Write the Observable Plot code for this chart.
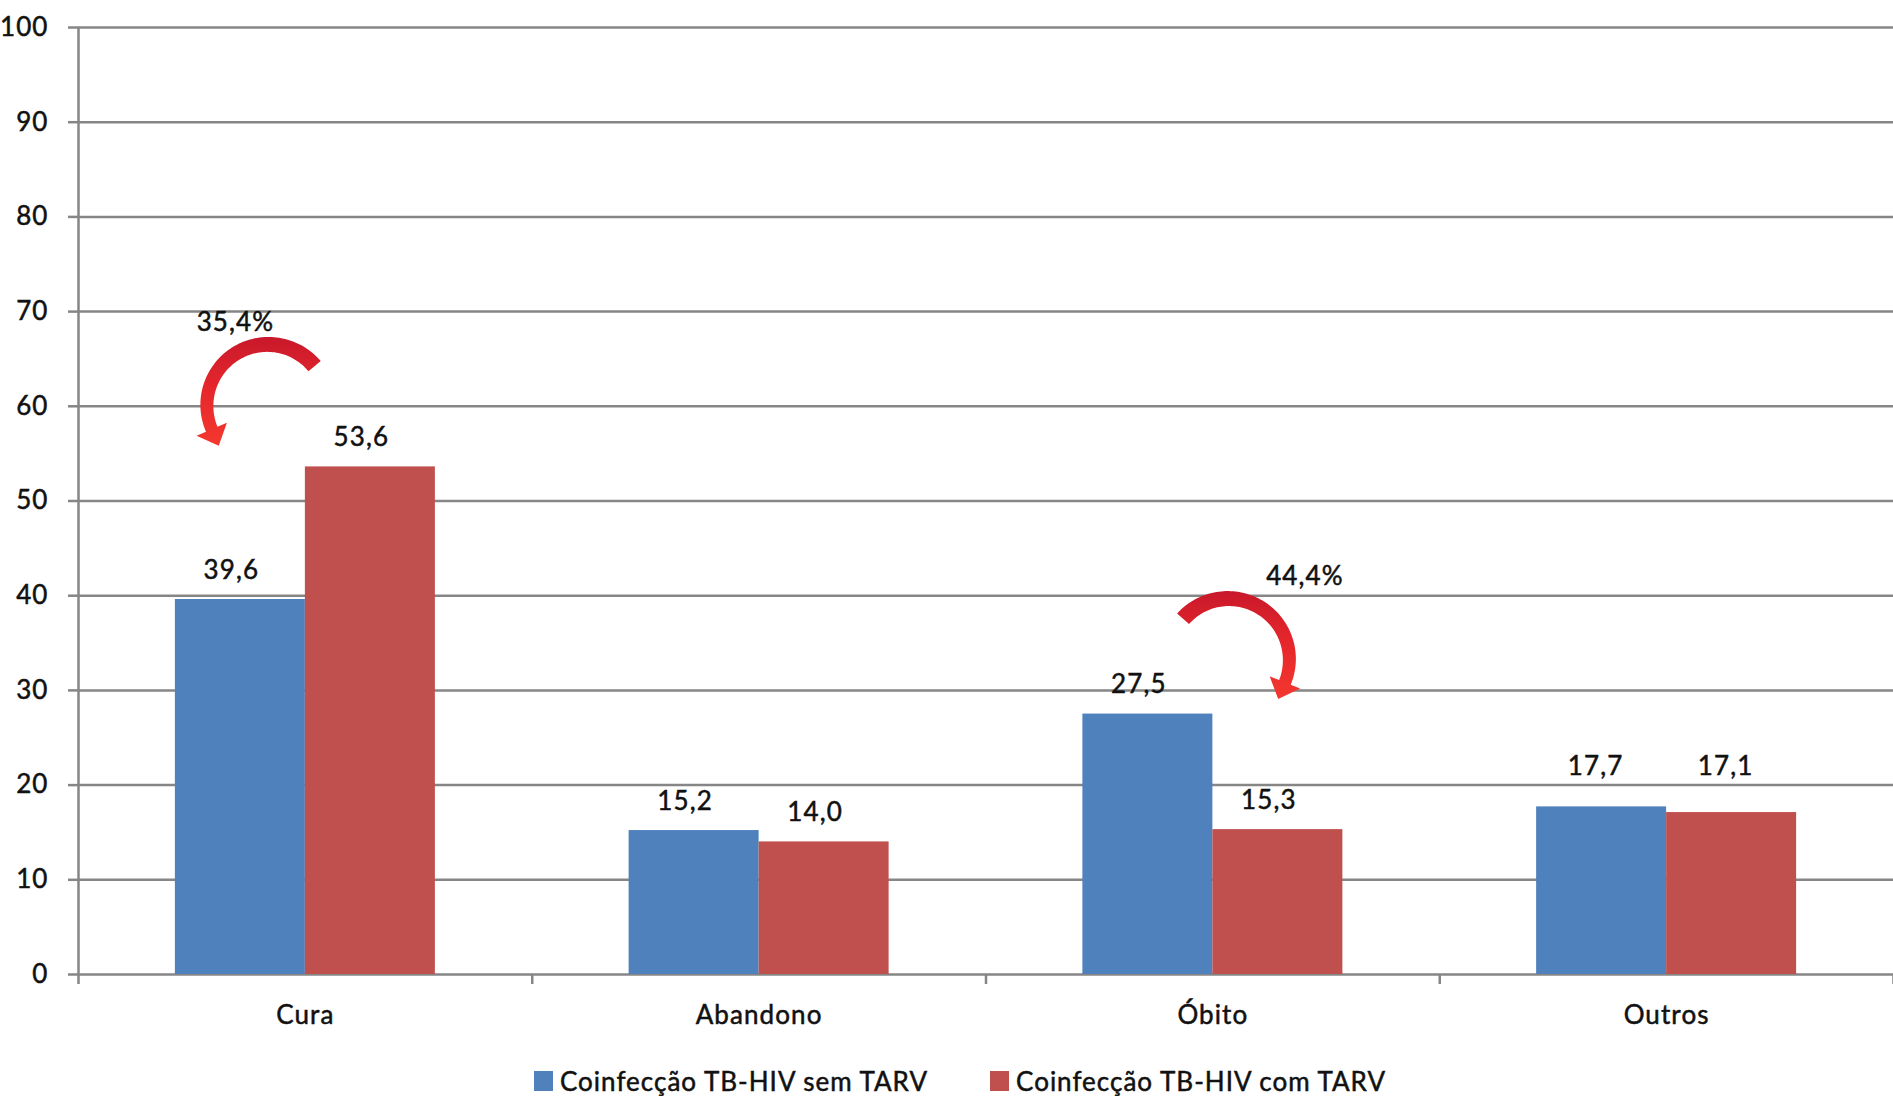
<!DOCTYPE html>
<html lang="pt">
<head>
<meta charset="utf-8">
<script src="https://cdn.jsdelivr.net/npm/d3@7"></script>
<script src="https://cdn.jsdelivr.net/npm/@observablehq/plot@0.6"></script>
<style>
  html, body { margin: 0; padding: 0; background: #fff; }
  body { width: 1893px; height: 1096px; position: relative; overflow: hidden; font-family: Lato, "Open Sans", sans-serif; }
  #chart svg text { stroke: #111; stroke-width: 0.5px; letter-spacing: 1.1px; }
  #legend { position: absolute; left: 534px; top: 1068px; display: flex; align-items: center; font-size: 26px; color: #111; line-height: 26px; white-space: nowrap; letter-spacing: 1px; -webkit-text-stroke: 0.5px #111; }
  #legend .item { display: flex; align-items: center; }
  #legend .swatch { width: 19px; height: 20px; margin-right: 7px; }
  #legend .item + .item { margin-left: 62px; }
</style>
</head>
<body>
<div id="chart"></div>
<div id="legend"></div>
<script>
// Treatment outcome (%) by category, TB-HIV coinfection without / with ART
const categories = ["Cura", "Abandono", "Óbito", "Outros"];
const semTarv = [39.6, 15.2, 27.5, 17.7];
const comTarv = [53.6, 14.0, 15.3, 17.1];
const seriesNames = ["Coinfecção TB-HIV sem TARV", "Coinfecção TB-HIV com TARV"];
const yTicks = [0, 10, 20, 30, 40, 50, 60, 70, 80, 90, 100];
// categories annotated with the relative change between the two groups
const changeCategories = ["Cura", "Óbito"];
// categories whose value labels sit together above the taller bar
const sharedLabelCategories = ["Outros"];

const colors = ["#4f81bd", "#c0504d"];
const gridColor = "#868686";
const width = 1893, height = 1050;
const marginLeft = 78, marginRight = 0, marginTop = 27, marginBottom = 76;
const band = (width - marginLeft - marginRight) / categories.length;
const barW = 130;
const outer = band / 2 - barW;
const pxPerUnit = (height - marginTop - marginBottom) / 100;
const tickDepth = 10 / pxPerUnit;

const comma = v => d3.format(".1f")(v).replace(".", ",");

const rows = categories.flatMap((c, i) => [
  {category: c, series: seriesNames[0], value: semTarv[i], top: Math.max(semTarv[i], comTarv[i])},
  {category: c, series: seriesNames[1], value: comTarv[i], top: Math.max(semTarv[i], comTarv[i])}
]);
const sem = rows.filter(d => d.series === seriesNames[0]);
const com = rows.filter(d => d.series === seriesNames[1]);
const own = d => !sharedLabelCategories.includes(d.category);
const shared = d => sharedLabelCategories.includes(d.category);

const changes = changeCategories.map(c => {
  const i = categories.indexOf(c);
  return {
    category: c,
    top: Math.max(semTarv[i], comTarv[i]),
    pct: Math.abs(comTarv[i] - semTarv[i]) / semTarv[i] * 100
  };
});

// curl of each change arrow: offset of the arc centre from the band centre / taller bar top,
// start and end angles (degrees), and where its percentage sits
const arrowLayout = {
  "Cura":  {ox: -37, oy: -61, a0: -40,  a1: -203, lx: -70, ly: -144},
  "Óbito": {ox: 16,  oy: -54, a0: -138, a1: 22,   lx: 92,  ly: -137}
};

function changeArrows(index, scales) {
  const {x, y} = scales;
  const bw = x.bandwidth ? x.bandwidth() : band;
  const g = d3.create("svg:g");
  const defs = g.append("defs");
  changes.forEach((d, k) => {
    const L = arrowLayout[d.category];
    const cx = x(d.category) + bw / 2 + L.ox;
    const cy = y(d.top) + L.oy;
    const r = 61, headW = 33, headL = 18;
    const rad = a => a * Math.PI / 180;
    const pt = (a, rr) => [cx + rr * Math.cos(rad(a)), cy + rr * Math.sin(rad(a))];
    const n = 80, outerPts = [], innerPts = [];
    for (let s = 0; s <= n; ++s) {
      const t = s / n;
      const a = L.a0 + (L.a1 - L.a0) * t;
      const w = 16 - 3.5 * t;
      outerPts.push(pt(a, r + w / 2));
      innerPts.push(pt(a, r - w / 2));
    }
    const sgn = Math.sign(L.a1 - L.a0);
    const a1 = rad(L.a1);
    const tan = [-Math.sin(a1) * sgn, Math.cos(a1) * sgn];
    const mid = pt(L.a1, r);
    const tip = [mid[0] + headL * tan[0], mid[1] + headL * tan[1]];
    const pts = [...outerPts, pt(L.a1, r + headW / 2), tip, pt(L.a1, r - headW / 2), ...innerPts.reverse()];
    const id = "arrowFill" + k;
    const grad = defs.append("linearGradient")
      .attr("id", id).attr("gradientUnits", "userSpaceOnUse")
      .attr("x1", cx).attr("y1", cy - r - 8).attr("x2", cx).attr("y2", cy + r * 0.6);
    grad.append("stop").attr("offset", 0).attr("stop-color", "#c8182b");
    grad.append("stop").attr("offset", 0.45).attr("stop-color", "#e4262c");
    grad.append("stop").attr("offset", 1).attr("stop-color", "#f3362f");
    g.append("path")
      .attr("d", "M" + pts.map(p => p[0].toFixed(2) + "," + p[1].toFixed(2)).join("L") + "Z")
      .attr("fill", `url(#${id})`);
  });
  return g.node();
}

const chart = Plot.plot({
  width, height, marginLeft, marginRight, marginTop, marginBottom,
  style: {fontFamily: "Lato, 'Open Sans', sans-serif", fontSize: "26px", color: "#111", background: "#fff"},
  x: {domain: categories, padding: 0, round: false, label: null},
  y: {domain: [0, 100], label: null},
  marks: [
    Plot.ruleY(yTicks, {stroke: gridColor, strokeWidth: 2.5}),
    Plot.axisY(yTicks, {tickSize: 10, tickPadding: 20, stroke: gridColor, strokeWidth: 2.5, fill: "#111", tickFormat: d => String(d), label: null}),
    Plot.axisX({tickSize: 0, tickPadding: 31, fill: "#111", label: null}),
    // vertical axis line and category boundary ticks
    Plot.ruleX([categories[0]], {x: d => d, dx: -band / 2, y1: -tickDepth, y2: 100, stroke: gridColor, strokeWidth: 2.5}),
    Plot.ruleX(categories.slice(1), {x: d => d, dx: -band / 2, y1: -tickDepth, y2: 0, stroke: gridColor, strokeWidth: 2.5}),
    Plot.ruleX([categories[categories.length - 1]], {x: d => d, dx: band / 2, y1: -tickDepth, y2: 0, stroke: gridColor, strokeWidth: 2.5}),
    Plot.barY(sem, {x: "category", y: "value", fill: colors[0], insetLeft: outer, insetRight: band / 2}),
    Plot.barY(com, {x: "category", y: "value", fill: colors[1], insetLeft: band / 2, insetRight: outer}),
    Plot.text(sem.filter(own), {x: "category", y: "value", text: d => comma(d.value), dx: -barW / 2 - 9, dy: -29, fill: "#111"}),
    Plot.text(com.filter(own), {x: "category", y: "value", text: d => comma(d.value), dx: barW / 2 - 9, dy: -29, fill: "#111"}),
    Plot.text(sem.filter(shared), {x: "category", y: "top", text: d => comma(d.value), dx: -barW / 2 - 6, dy: -40, fill: "#111"}),
    Plot.text(com.filter(shared), {x: "category", y: "top", text: d => comma(d.value), dx: barW / 2 - 6, dy: -40, fill: "#111"}),
    changeArrows,
    ...changes.map(d => Plot.text([d], {
      x: "category", y: "top", text: c => comma(c.pct) + "%",
      dx: arrowLayout[d.category].lx, dy: arrowLayout[d.category].ly, fill: "#111"
    }))
  ]
});
document.getElementById("chart").appendChild(chart);

const legend = d3.select("#legend");
seriesNames.forEach((name, i) => {
  const item = legend.append("div").attr("class", "item");
  item.append("div").attr("class", "swatch").style("background", colors[i]);
  item.append("span").text(name);
});
</script>
</body>
</html>
